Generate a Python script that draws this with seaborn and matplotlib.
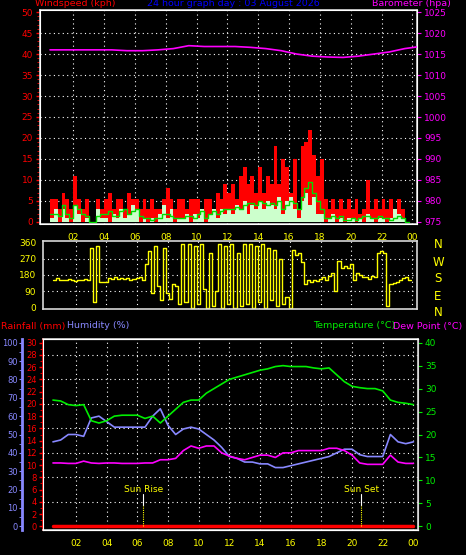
import numpy as np
import pandas as pd
import matplotlib
matplotlib.use("Agg")
import matplotlib.pyplot as plt
import seaborn as sns
from matplotlib.ticker import MultipleLocator

# ---- data ----
WIND_START, WIND_STEP = 0.5, 0.25
gust = [5.5, 5.5,
        3, 7, 5.5, 3,   11, 5.5, 3, 5.5,   0, 0, 5.5, 3,   5.5, 7, 3, 5.5,
        5.5, 3, 7, 5.5, 5.5, 3, 5.5, 3,    5.5, 3, 3, 5.5, 8, 5.5, 3, 5.5,
        5.5, 3, 5.5, 5.5, 5.5, 3, 5.5, 5.5, 3, 7, 5.5, 9,  7, 9, 5.5, 11,
        13, 9, 11, 7,   13, 7, 11, 9,   18, 9, 15, 13,   7, 15, 3, 18,
        19, 22, 16, 11, 15, 5.5, 3, 5.5, 3, 5.5, 3, 5.5, 3, 5.5, 2, 3,
        10, 3, 5.5, 3,  5.5, 3, 5.5, 3,  5.5, 3, 0, 5.5]
wind_avg = [2, 2,
            1.5, 4, 2, 1,   4, 3, 2, 1.5,   0, 0, 1.5, 2,   2, 2.5, 1.5, 1.5,
            2.5, 3, 2, 2.5, 3, 1.5, 1, 1,   0.5, 1, 1, 2,   2, 1.5, 1, 1,
            1, 1.5, 1.5, 1, 2, 2.5, 1, 2,   2.5, 2, 2.5, 3, 3, 3, 3.5, 3,
            4, 4.5, 4.5, 4, 5, 4.5, 4, 4.5, 4, 5, 3, 4,   5, 4.5, 3, 6,
            8, 9.5, 7, 5,   3, 1, 1, 1.5,   1, 1.5, 0.5, 0.5, 1, 0.5, 1, 1.5,
            1.5, 1, 1, 1.5, 1, 1, 0.5, 1,   1.5, 1, 0, 0]
wind_now = [1, 3,
            0, 3, 1, 0,     4, 2, 0, 1,     0, 0, 3, 1,     1, 0, 2, 1,
            3, 1, 2, 4,     3, 0, 1, 0,     1, 0, 2, 4,     1, 3, 0, 1,
            1, 2, 0, 2,     1, 3, 0, 2,     3, 1, 3, 2,     3, 2, 4, 3,
            5, 2, 4, 3,     5, 3, 5, 4,     3, 6, 2, 5,     6, 3, 1, 5,
            7, 4, 6, 2,     2, 0, 1, 2,     0, 1, 0, 1,     1, 0, 1, 0,
            2, 1, 0, 1,     1, 0, 1, 3,     2, 1, 0, 0]

PRESS_START = 0.5
pressure = [1016, 1016, 1016, 1016, 1016, 1015.8, 1015.8, 1016, 1016.3, 1017,
            1016.8, 1016.8, 1016.8, 1016.6, 1016.3, 1015.8, 1015, 1014.5,
            1014.3, 1014.2, 1014.5, 1015, 1015.5, 1016.3, 1016.8]

DIR_START, DIR_STEP = 0.5, 0.2
wind_dir = [150, 165, 155, 150, 155, 160, 150, 145, 155, 150, 160, 150,
            330, 30, 340, 140, 140, 140, 165, 160, 170, 160, 165, 160, 165,
            155, 160, 165, 170, 150, 240, 310, 80, 340, 120, 40, 330, 80, 50,
            130, 120, 20, 350, 30, 350, 0, 340, 20, 350, 100, 0, 300, 10, 90,
            350, 0, 340, 20, 350, 0, 300, 10, 350, 20, 350, 0, 340, 30, 350,
            0, 330, 40, 320, 10, 270, 20, 60, 0, 320, 290, 300, 250, 130, 150,
            140, 150, 145, 160, 170, 150, 175, 190, 90, 260, 220, 230, 220,
            240, 150, 190, 180, 170, 170, 160, 175, 170, 300, 310, 300, 10,
            130, 135, 140, 150, 165, 170, 150, 150]

LOW_START, LOW_STEP = 0.5, 0.5
temperature = [27.5, 27.3, 26.5, 26.3, 26.5, 23, 22.5, 23, 24, 24.2, 24.2,
               24.2, 23.5, 24, 22.5, 24, 25.5, 27, 27.5, 27.5, 29, 30, 31,
               32, 32.5, 33, 33.5, 34, 34.3, 34.8, 35, 34.8, 34.8, 34.8, 34.5,
               34.3, 34.5, 33, 31.5, 30.5, 30.2, 30, 30, 29.5, 27.5, 27, 26.8,
               26.5]
humidity = [46, 47, 50, 50, 49, 59, 60, 57, 54, 54, 54, 54, 54, 60, 64, 55,
            50, 53, 54, 53, 50, 47, 43, 38, 37, 35, 35, 34, 34, 32, 32, 33,
            34, 35, 36, 37, 38, 40, 42, 42, 39, 38, 38, 38, 50, 46, 45, 46]
dew_point = [13.8, 13.8, 13.7, 13.7, 14.2, 13.8, 13.7, 13.8, 13.8, 13.7,
             13.7, 13.7, 13.8, 13.8, 14.5, 14.5, 14.8, 16.5, 17.5, 17, 17.5,
             17.5, 16, 15.3, 14.8, 14.5, 15, 15.5, 15.5, 15, 16, 16, 16.5,
             16.5, 16.5, 16.5, 17, 17, 16.5, 15.5, 13.8, 13.5, 13.5, 13.5,
             15.5, 14, 13.7, 13.7]
rainfall = [0] * 48

hour_ticks = list(range(2, 25, 2))
hour_labels = ["02", "04", "06", "08", "10", "12", "14", "16", "18", "20", "22", "00"]
SUNRISE, SUNSET = 6.4, 20.6

# ---- frames ----
wind = pd.DataFrame({"t": WIND_START + WIND_STEP * np.arange(len(gust)),
                     "gust": gust, "avg": wind_avg, "now": wind_now})
press = pd.DataFrame({"t": PRESS_START + np.arange(len(pressure)), "p": pressure})
wdir = pd.DataFrame({"t": DIR_START + DIR_STEP * np.arange(len(wind_dir)), "d": wind_dir})
low = pd.DataFrame({"t": LOW_START + LOW_STEP * np.arange(len(temperature)),
                    "temp": temperature, "hum": humidity, "dew": dew_point, "rain": rainfall})

sns.set_style("dark")
plt.rcParams.update({"font.family": ["DejaVu Sans"], "font.size": 6.5,
                     "axes.facecolor": "black", "figure.facecolor": "black"})

W, H = 466, 555
fig = plt.figure(figsize=(W / 100, H / 100), dpi=100)


def px_axes(x0, y0, x1, y1):
    return fig.add_axes([x0 / W, 1 - y1 / H, (x1 - x0) / W, (y1 - y0) / H])


FRAME = "#d8d8d8"
XLIM = (-0.15, 24.3)


def style(ax, left_color, grid_y):
    ax.set_facecolor("black")
    for s in ax.spines.values():
        s.set_color(FRAME)
        s.set_linewidth(1.2)
    ax.set_xlim(*XLIM)
    ax.set_xticks(hour_ticks)
    ax.xaxis.set_minor_locator(MultipleLocator(1))
    ax.tick_params(axis="y", colors=left_color, labelsize=6.5, length=3, width=1, pad=2)
    ax.tick_params(axis="x", colors=FRAME, labelcolor="yellow", length=3, width=1, labelsize=6.5)
    ax.tick_params(axis="x", which="minor", colors=FRAME, length=2)
    for x in hour_ticks:
        ax.axvline(x, color="white", ls=(0, (1, 3)), lw=0.8, zorder=0)
    for y in grid_y:
        ax.axhline(y, color="white", ls=(0, (1, 3)), lw=0.8, zorder=0)
    ax.set_xlabel(None)
    ax.set_ylabel(None)


# ---- top: wind speed + barometer ----
ax1 = px_axes(40, 10, 417, 224)
ax1.fill_between(wind["t"], wind["gust"], step="post", color="#ff0000", lw=0)
ax1.fill_between(wind["t"], wind["now"], step="post", color="#ccffcc", lw=0)
sns.lineplot(data=wind, x="t", y="avg", ax=ax1, color="#00dd00", lw=1, drawstyle="steps-post")
ax1.set_ylim(-0.5, 50.5)
ax1.set_yticks(range(0, 51, 5))
ax1.yaxis.set_minor_locator(MultipleLocator(1))
ax1.tick_params(axis="y", which="minor", colors="red", length=2)
style(ax1, "red", range(5, 50, 5))
ax1.set_xticklabels(hour_labels)

ax1b = ax1.twinx()
sns.lineplot(data=press, x="t", y="p", ax=ax1b, color="#ff00ff", lw=1.2)
ax1b.set_ylim(975 - 0.5, 1025.5)
ax1b.set_yticks(range(975, 1026, 5))
ax1b.tick_params(axis="y", colors="#ff00ff", labelsize=6.5, length=3, pad=2)
ax1b.set_ylabel(None)
ax1b.set_xlim(*XLIM)

fig.text(35 / W, 1 - 4 / H, "Windspeed (kph)", color="red", fontsize=6.8, va="center")
fig.text(233 / W, 1 - 4 / H, "24 hour graph day : 03 August 2026", color="#0000ff",
         fontsize=6.8, va="center", ha="center")
fig.text(372 / W, 1 - 4 / H, "Barometer (hpa)", color="#ff00ff", fontsize=6.8, va="center")

# ---- middle: wind direction ----
ax2 = px_axes(43, 241, 417, 309)
sns.lineplot(data=wdir, x="t", y="d", ax=ax2, color="yellow", lw=1, drawstyle="steps-post")
ax2.set_ylim(-8, 368)
ax2.set_yticks([0, 90, 180, 270, 360])
style(ax2, "yellow", [90, 180, 270])
ax2.set_xticklabels([])
ax2.tick_params(axis="x", length=0, which="both")
for i, c in enumerate("NWSEN"):
    fig.text(438 / W, 1 - (245 + i * 17) / H, c, color="yellow", fontsize=8.5,
             ha="center", va="center")

# ---- bottom: rain / humidity / temperature / dew point ----
ax3 = px_axes(43, 339, 418, 530)
sns.lineplot(data=low, x="t", y="rain", ax=ax3, color="red", lw=2.5)
ax3.set_ylim(-0.6, 30.6)
ax3.set_yticks(range(0, 31, 2))
ax3.yaxis.set_minor_locator(MultipleLocator(1))
ax3.tick_params(axis="y", which="minor", colors="red", length=2)
style(ax3, "red", range(4, 30, 4))
ax3.tick_params(axis="y", labelsize=6, pad=1.5)
ax3.set_xticklabels(hour_labels)
ax3.spines["left"].set_color("red")
for x, label in [(SUNRISE, "Sun Rise"), (SUNSET, "Sun Set")]:
    ax3.plot([x, x], [0, 3.5], color="yellow", ls=(0, (1, 1)), lw=0.8)
    ax3.plot([x, x], [3.5, 5.2], color="white", lw=0.8)
    ax3.text(x, 6.0, label, color="yellow", fontsize=6.5, ha="center", va="center")

ax3h = ax3.twinx()
ax3h.spines["right"].set_visible(False)
ax3h.spines["left"].set_visible(True)
ax3h.spines["left"].set_position(("axes", -0.056))
ax3h.spines["left"].set_color("#8888ff")
ax3h.spines["left"].set_linewidth(2)
ax3h.yaxis.set_ticks_position("left")
ax3h.yaxis.set_label_position("left")
sns.lineplot(data=low, x="t", y="hum", ax=ax3h, color="#8888ff", lw=1.2)
ax3h.set_ylim(-2, 102)
ax3h.set_yticks(range(0, 101, 10))
ax3h.yaxis.set_minor_locator(MultipleLocator(5))
ax3h.tick_params(axis="y", which="both", colors="#8888ff", labelsize=6, length=2, pad=1)
ax3h.set_ylabel(None)
ax3h.set_xlim(*XLIM)

ax3t = ax3.twinx()
sns.lineplot(data=low, x="t", y="temp", ax=ax3t, color="#00ee00", lw=1.2)
sns.lineplot(data=low, x="t", y="dew", ax=ax3t, color="#ff00ff", lw=1.2)
ax3t.set_ylim(-0.8, 40.8)
ax3t.set_yticks(range(0, 41, 5))
ax3t.tick_params(axis="y", colors="#00ee00", labelsize=6.5, length=3, pad=2)
ax3t.spines["right"].set_color(FRAME)
ax3t.set_ylabel(None)
ax3t.set_xlim(*XLIM)

fig.text(1 / W, 1 - 326 / H, "Rainfall (mm)", color="red", fontsize=6.8, va="center")
fig.text(67 / W, 1 - 326 / H, "Humidity (%)", color="#8888ff", fontsize=6.8, va="center")
fig.text(313 / W, 1 - 326 / H, "Temperature (°C)", color="#00ee00", fontsize=6.8, va="center")
fig.text(393 / W, 1 - 326 / H, "Dew Point (°C)", color="#ff00ff", fontsize=6.8, va="center")

fig.savefig("out.png", dpi=100, facecolor="black")
